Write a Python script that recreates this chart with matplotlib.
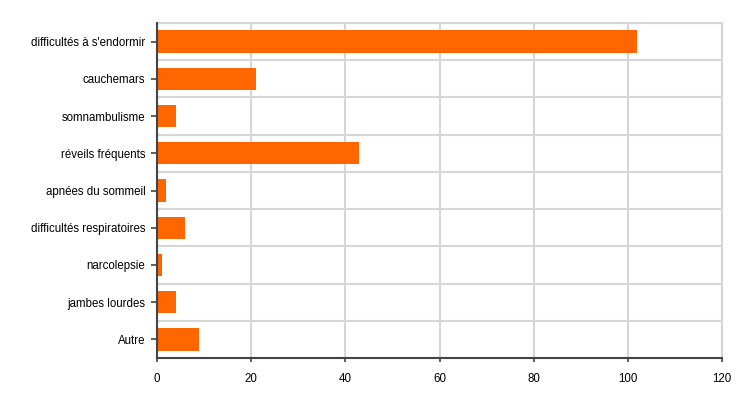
import matplotlib
matplotlib.use("Agg")
import matplotlib.pyplot as plt
import numpy as np

plt.rcParams['font.family'] = ['Liberation Sans', 'DejaVu Sans']

categories = ["difficultés à s'endormir", "cauchemars", "somnambulisme",
              "réveils fréquents", "apnées du sommeil", "difficultés respiratoires",
              "narcolepsie", "jambes lourdes", "Autre"]
values = [102, 21, 4, 43, 2, 6, 1, 4, 9]
x_ticks = [0, 20, 40, 60, 80, 100, 120]

fig = plt.figure(figsize=(7.44, 4.05), dpi=100)
ax = fig.add_axes([157/744, 1-358/405, (722-157)/744, (358-23)/405])

pos = np.arange(len(categories))
ax.barh(pos, values, height=0.6, color='#ff6600', zorder=3)

ax.set_xlim(0, 120)
ax.set_ylim(len(categories)-0.5, -0.5)
ax.set_xticks(x_ticks)
ax.set_yticks(pos)
ax.set_yticklabels(categories)
ax.set_yticks(np.arange(len(categories)+1)-0.5, minor=True)

grid_col = '#d6d6d6'
ax.grid(True, axis='x', which='major', color=grid_col, linewidth=1.5, zorder=0)
ax.grid(True, axis='y', which='minor', color=grid_col, linewidth=1.5, zorder=0)
ax.grid(False, axis='y', which='major')

ax.tick_params(axis='y', which='minor', length=0)
ax.tick_params(axis='y', which='major', length=4.3, width=1.2, color='#444444',
               labelsize=8.3, pad=4)
ax.tick_params(axis='x', which='major', length=3, width=1.2, color='#444444',
               labelsize=8.3, pad=7.8)

for s in ['left', 'bottom']:
    ax.spines[s].set_color('#444444')
    ax.spines[s].set_linewidth(1.5)
    ax.spines[s].set_zorder(4)
for s in ['top', 'right']:
    ax.spines[s].set_color(grid_col)
    ax.spines[s].set_linewidth(1.5)

fig.savefig('out.png', dpi=100)
